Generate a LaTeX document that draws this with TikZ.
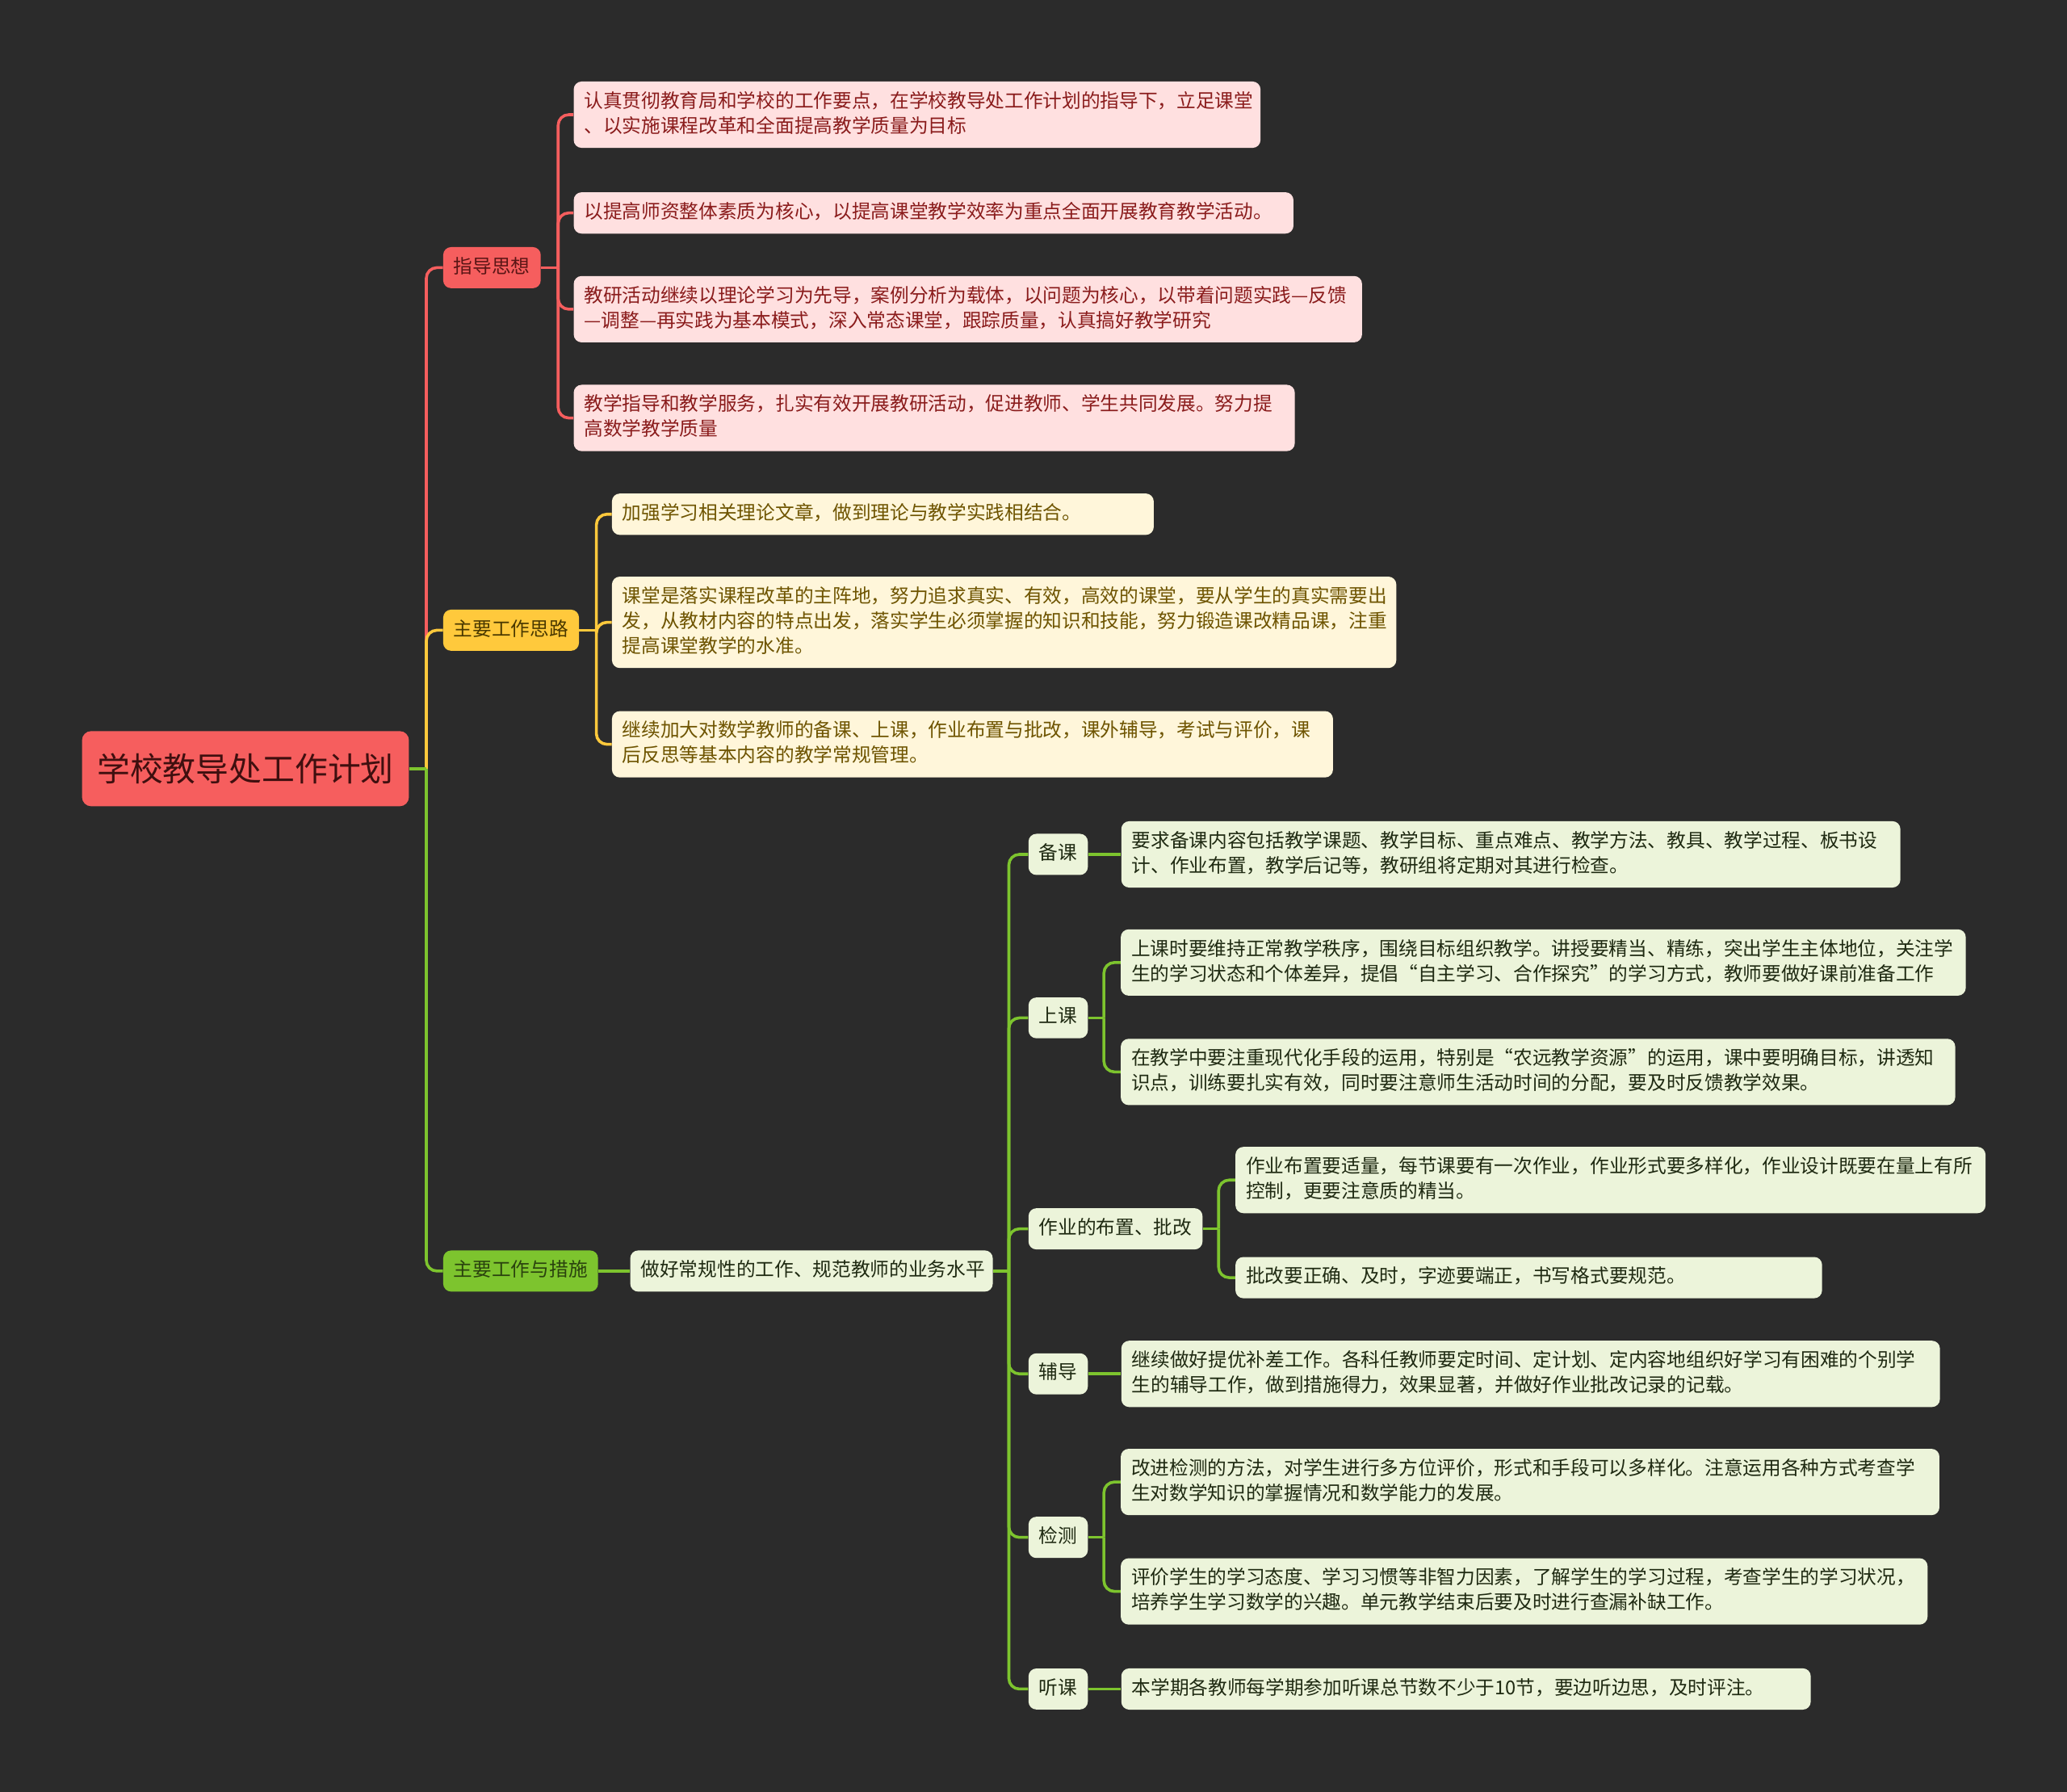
\documentclass[tikz,border=0pt]{standalone}
\usepackage{fontspec}
\usepackage{xcolor}
\usetikzlibrary{positioning}
\setmainfont{Noto Sans CJK SC}

\definecolor{cBg}{HTML}{2B2B2B}
\definecolor{cRed}{HTML}{F65E5E}
\definecolor{cRedLeaf}{HTML}{FFE0E0}
\definecolor{cRedText}{HTML}{8A1C1C}
\definecolor{cRedDark}{HTML}{5A1515}
\definecolor{cYel}{HTML}{FFC93C}
\definecolor{cYelLeaf}{HTML}{FFF6DA}
\definecolor{cYelText}{HTML}{6E5400}
\definecolor{cYelDark}{HTML}{4A3900}
\definecolor{cGrn}{HTML}{7DC42E}
\definecolor{cGrnLeaf}{HTML}{ECF4DA}
\definecolor{cGrnText}{HTML}{1F2A12}
\definecolor{cGrnDark}{HTML}{2A420E}

\newcommand{\lstrut}{\rule[-4pt]{0pt}{15pt}}

\begin{document}
\begin{tikzpicture}[
    x=1pt, y=-1pt,
    base/.style={
        rectangle,
        rounded corners=6pt,
        inner xsep=8pt,
        inner ysep=7.5pt,
        font=\fontsize{14.5}{19}\selectfont,
        align=left,
        anchor=west,
        execute at begin node=\lstrut,
        execute at end node=\lstrut
    },
    rootbox/.style={
        rectangle,
        rounded corners=7pt,
        fill=cRed,
        text=cRedDark!70!black,
        inner xsep=11.5pt,
        minimum height=57pt,
        anchor=west,
        font=\fontsize{25}{30}\selectfont
    },
    topic/.style={base, fill=#1},
    pinkleaf/.style={base, fill=cRedLeaf, text=cRedText, text width=#1},
    creamleaf/.style={base, fill=cYelLeaf, text=cYelText, text width=#1},
    greenleaf/.style={base, fill=cGrnLeaf, text=cGrnText, text width=#1},
    sub/.style={base, fill=cGrnLeaf, text=cGrnText},
    redlink/.style={draw=cRed, line width=2.2pt, rounded corners=8pt},
    yellink/.style={draw=cYel, line width=2.2pt, rounded corners=8pt},
    grnlink/.style={draw=cGrn, line width=2.2pt, rounded corners=8pt}
]

    % --- Background ---
    \fill[cBg] (0,0) rectangle (1568,1359);
    \useasboundingbox (0,0) rectangle (1568,1359);

    % --- Nodes ---

    % Root
    \node [rootbox] (root) at (62,583) {学校教导处工作计划};

    % Branch 1: red
    \node [topic=cRed, text=cRedDark] (zdsx) at (336,203) {指导思想};
    \node [pinkleaf=505pt] (zd1) at (435,87) {认真贯彻教育局和学校的工作要点，在学校教导处工作计划的指导下，立足课堂\\、以实施课程改革和全面提高教学质量为目标};
    \node [pinkleaf=530pt] (zd2) at (435,161.5) {以提高师资整体素质为核心，以提高课堂教学效率为重点全面开展教育教学活动。};
    \node [pinkleaf=582pt] (zd3) at (435,234.5) {教研活动继续以理论学习为先导，案例分析为载体，以问题为核心，以带着问题实践—反馈\\—调整—再实践为基本模式，深入常态课堂，跟踪质量，认真搞好教学研究};
    \node [pinkleaf=531pt] (zd4) at (435,317) {教学指导和教学服务，扎实有效开展教研活动，促进教师、学生共同发展。努力提\\高数学教学质量};

    % Branch 2: yellow
    \node [topic=cYel, text=cYelDark] (zygs) at (336,478) {主要工作思路};
    \node [creamleaf=395pt] (gs1) at (464,390) {加强学习相关理论文章，做到理论与教学实践相结合。};
    \node [creamleaf=579pt] (gs2) at (464,472) {课堂是落实课程改革的主阵地，努力追求真实、有效，高效的课堂，要从学生的真实需要出\\发，从教材内容的特点出发，落实学生必须掌握的知识和技能，努力锻造课改精品课，注重\\提高课堂教学的水准。};
    \node [creamleaf=531pt] (gs3) at (464,564.5) {继续加大对数学教师的备课、上课，作业布置与批改，课外辅导，考试与评价，课\\后反思等基本内容的教学常规管理。};

    % Branch 3: green
    \node [topic=cGrn, text=cGrnDark] (zygc) at (336,964) {主要工作与措施};
    \node [greenleaf=259pt, right=24pt of zygc] (cg) {做好常规性的工作、规范教师的业务水平};

    \node [sub] (bk) at (780,648) {备课};
    \node [greenleaf=575pt, right=25pt of bk] (bk1) {要求备课内容包括教学课题、教学目标、重点难点、教学方法、教具、教学过程、板书设\\计、作业布置，教学后记等，教研组将定期对其进行检查。};

    \node [sub] (sk) at (780,772) {上课};
    \node [greenleaf=625pt] (sk1) at (850,730) {上课时要维持正常教学秩序，围绕目标组织教学。讲授要精当、精练，突出学生主体地位，关注学\\生的学习状态和个体差异，提倡“自主学习、合作探究”的学习方式，教师要做好课前准备工作};
    \node [greenleaf=617pt] (sk2) at (850,813) {在教学中要注重现代化手段的运用，特别是“农远教学资源”的运用，课中要明确目标，讲透知\\识点，训练要扎实有效，同时要注意师生活动时间的分配，要及时反馈教学效果。};

    \node [sub] (zy) at (780,932) {作业的布置、批改};
    \node [greenleaf=553pt] (zy1) at (937,895) {作业布置要适量，每节课要有一次作业，作业形式要多样化，作业设计既要在量上有所\\控制，更要注意质的精当。};
    \node [greenleaf=429pt] (zy2) at (937,969) {批改要正确、及时，字迹要端正，书写格式要规范。};

    \node [sub] (fd) at (780,1042) {辅导};
    \node [greenleaf=605pt, right=25pt of fd] (fd1) {继续做好提优补差工作。各科任教师要定时间、定计划、定内容地组织好学习有困难的个别学\\生的辅导工作，做到措施得力，效果显著，并做好作业批改记录的记载。};

    \node [sub] (jc) at (780,1166) {检测};
    \node [greenleaf=605pt] (jc1) at (850,1124) {改进检测的方法，对学生进行多方位评价，形式和手段可以多样化。注意运用各种方式考查学\\生对数学知识的掌握情况和数学能力的发展。};
    \node [greenleaf=596pt] (jc2) at (850,1207) {评价学生的学习态度、学习习惯等非智力因素，了解学生的学习过程，考查学生的学习状况，\\培养学生学习数学的兴趣。单元教学结束后要及时进行查漏补缺工作。};

    \node [sub] (tk) at (780,1281) {听课};
    \node [greenleaf=507pt, right=25pt of tk] (tk1) {本学期各教师每学期参加听课总节数不少于10节，要边听边思，及时评注。};

    % --- Connections ---

    % 1. Root to the three branches
    \coordinate [right=13pt of root] (trunk);
    \path [redlink] (trunk) |- (zdsx.west);
    \path [yellink] (trunk) |- (zygs.west);
    \path [grnlink] (trunk) |- (zygc.west);
    \path [grnlink] (root.east) -- (trunk);

    % 2. Red fork
    \coordinate [right=13pt of zdsx] (zdfork);
    \path [redlink] (zdsx.east) -- (zdfork);
    \foreach \n in {zd1,zd2,zd3,zd4}
        \path [redlink] (zdfork) |- (\n.west);

    % 3. Yellow fork
    \coordinate [right=13pt of zygs] (gsfork);
    \path [yellink] (zygs.east) -- (gsfork);
    \foreach \n in {gs1,gs2,gs3}
        \path [yellink] (gsfork) |- (\n.west);

    % 4. Green fork
    \path [grnlink] (zygc.east) -- (cg.west);
    \coordinate [right=12pt of cg] (cgfork);
    \path [grnlink] (cg.east) -- (cgfork);
    \foreach \n in {bk,sk,zy,fd,jc,tk}
        \path [grnlink] (cgfork) |- (\n.west);

    % 5. Sub-forks
    \path [grnlink] (bk.east) -- (bk1.west);
    \coordinate [right=12pt of sk] (skfork);
    \path [grnlink] (sk.east) -- (skfork);
    \path [grnlink] (skfork) |- (sk1.west);
    \path [grnlink] (skfork) |- (sk2.west);
    \coordinate [right=12pt of zy] (zyfork);
    \path [grnlink] (zy.east) -- (zyfork);
    \path [grnlink] (zyfork) |- (zy1.west);
    \path [grnlink] (zyfork) |- (zy2.west);
    \path [grnlink] (fd.east) -- (fd1.west);
    \coordinate [right=12pt of jc] (jcfork);
    \path [grnlink] (jc.east) -- (jcfork);
    \path [grnlink] (jcfork) |- (jc1.west);
    \path [grnlink] (jcfork) |- (jc2.west);
    \path [grnlink] (tk.east) -- (tk1.west);

\end{tikzpicture}
\end{document}
